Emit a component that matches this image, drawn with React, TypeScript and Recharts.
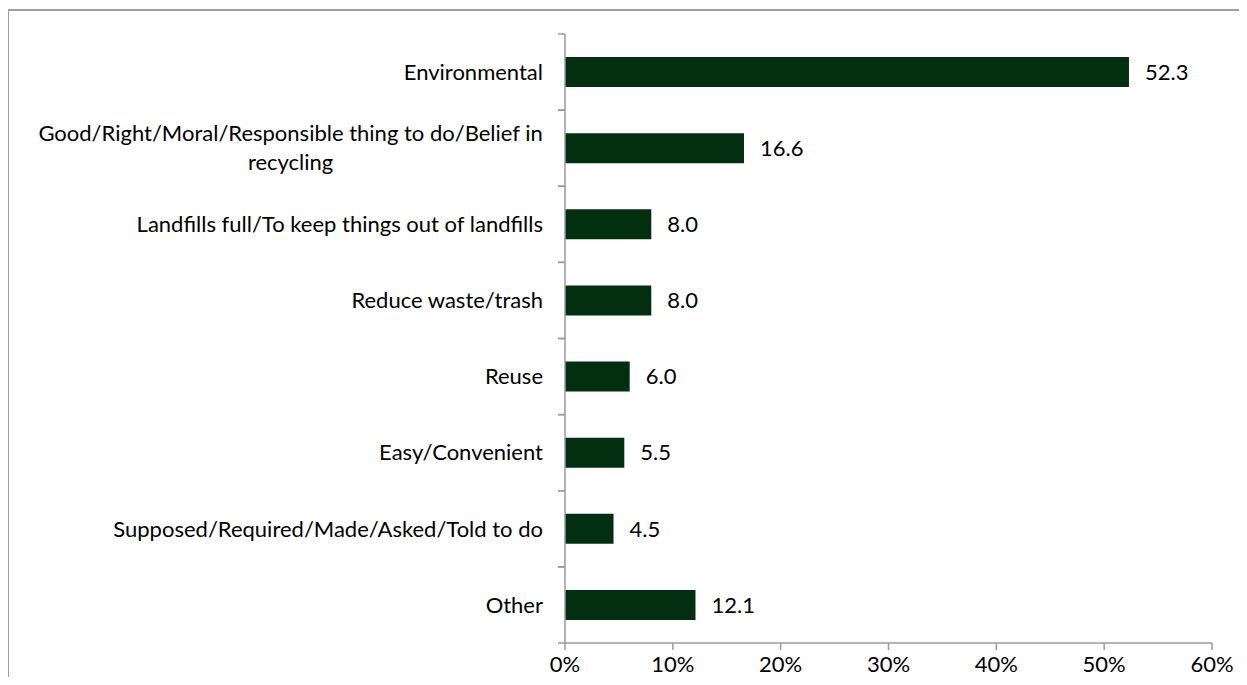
import React from "react"
import { Bar, BarChart, LabelList, XAxis, YAxis } from "recharts"

const categories = [
  "Environmental",
  "Good/Right/Moral/Responsible thing to do/Belief in recycling",
  "Landfills full/To keep things out of landfills",
  "Reduce waste/trash",
  "Reuse",
  "Easy/Convenient",
  "Supposed/Required/Made/Asked/Told to do",
  "Other",
]
const percents = [52.3, 16.6, 8.0, 8.0, 6.0, 5.5, 4.5, 12.1]
const xTicks = [0, 10, 20, 30, 40, 50, 60]

const data = categories.map((name, i) => ({ name, value: percents[i] }))

const FONT = "Lato, 'Open Sans', sans-serif"
const FONT_SIZE = 22
const AXIS = "#9a9a9a"
const BAR = "#022f0f"
const TICK = 7
const GAP = 15
const MAX_LABEL = 530

let ctx: CanvasRenderingContext2D | null = null
function measure(s: string) {
  if (!ctx) ctx = document.createElement("canvas").getContext("2d")
  if (!ctx) return s.length * FONT_SIZE * 0.5
  ctx.font = `${FONT_SIZE}px Lato`
  return ctx.measureText(s).width
}

// split a long category into lines, the way the original wraps it
function wrap(text: string) {
  const words = text.split(" ")
  const lines: string[] = []
  let cur = ""
  for (const w of words) {
    const next = cur ? cur + " " + w : w
    if (cur && measure(next) > MAX_LABEL) {
      lines.push(cur)
      cur = w
    } else cur = next
  }
  if (cur) lines.push(cur)
  return lines
}

function CategoryTick(props: any) {
  const { x, y, payload } = props
  const axisX = x + TICK + GAP
  const half = payload.offset ?? 38
  const lines = wrap(String(payload.value))
  const blockW = Math.max(...lines.map(measure))
  const lh = 29
  const top = y - ((lines.length - 1) * lh) / 2
  return (
    <g>
      <line x1={axisX - TICK} x2={axisX} y1={y - half} y2={y - half} stroke={AXIS} strokeWidth={1.5} />
      <line x1={axisX - TICK} x2={axisX} y1={y + half} y2={y + half} stroke={AXIS} strokeWidth={1.5} />
      {lines.map((l, i) =>
        lines.length === 1 ? (
          <text key={i} x={x} y={y} dy="0.35em" textAnchor="end" fill="#000" fontSize={FONT_SIZE} fontFamily={FONT}>
            {l}
          </text>
        ) : (
          <text key={i} x={x - blockW / 2} y={top + i * lh} dy="0.35em" textAnchor="middle" fill="#000" fontSize={FONT_SIZE} fontFamily={FONT}>
            {l}
          </text>
        )
      )}
    </g>
  )
}

export default function App() {
  return (
    <div style={{ margin: -8, width: 1247, height: 685, position: "relative", background: "#fff" }}>
      <div
        style={{
          position: "absolute",
          left: 7,
          top: 9,
          right: -10,
          bottom: -10,
          borderLeft: "2px solid #a0a0a0",
          borderTop: "2px solid #a0a0a0",
        }}
      />
      <BarChart
        width={1247}
        height={685}
        data={data}
        layout="vertical"
        margin={{ top: 34, right: 35, bottom: 0, left: 0 }}
        style={{ position: "absolute", left: 0, top: 0 }}
      >
        <XAxis
          type="number"
          domain={[0, 60]}
          ticks={xTicks}
          tickFormatter={(v) => `${v}%`}
          axisLine={{ stroke: AXIS, strokeWidth: 1.5 }}
          tickLine={{ stroke: AXIS, strokeWidth: 1.5 }}
          tickSize={TICK}
          tickMargin={6}
          height={42}
          interval={0}
          tick={{ fill: "#000", fontSize: FONT_SIZE, fontFamily: FONT }}
        />
        <YAxis
          type="category"
          dataKey="name"
          width={565}
          axisLine={{ stroke: AXIS, strokeWidth: 1.5 }}
          tickLine={false}
          tickSize={TICK}
          tickMargin={GAP}
          interval={0}
          tick={<CategoryTick />}
        />
        <Bar dataKey="value" fill={BAR} barSize={30} isAnimationActive={false}>
          <LabelList
            dataKey="value"
            position="right"
            offset={16}
            formatter={(v: any) => Number(v).toFixed(1)}
            style={{ fill: "#000", fontSize: FONT_SIZE, fontFamily: FONT }}
          />
        </Bar>
      </BarChart>
    </div>
  )
}
